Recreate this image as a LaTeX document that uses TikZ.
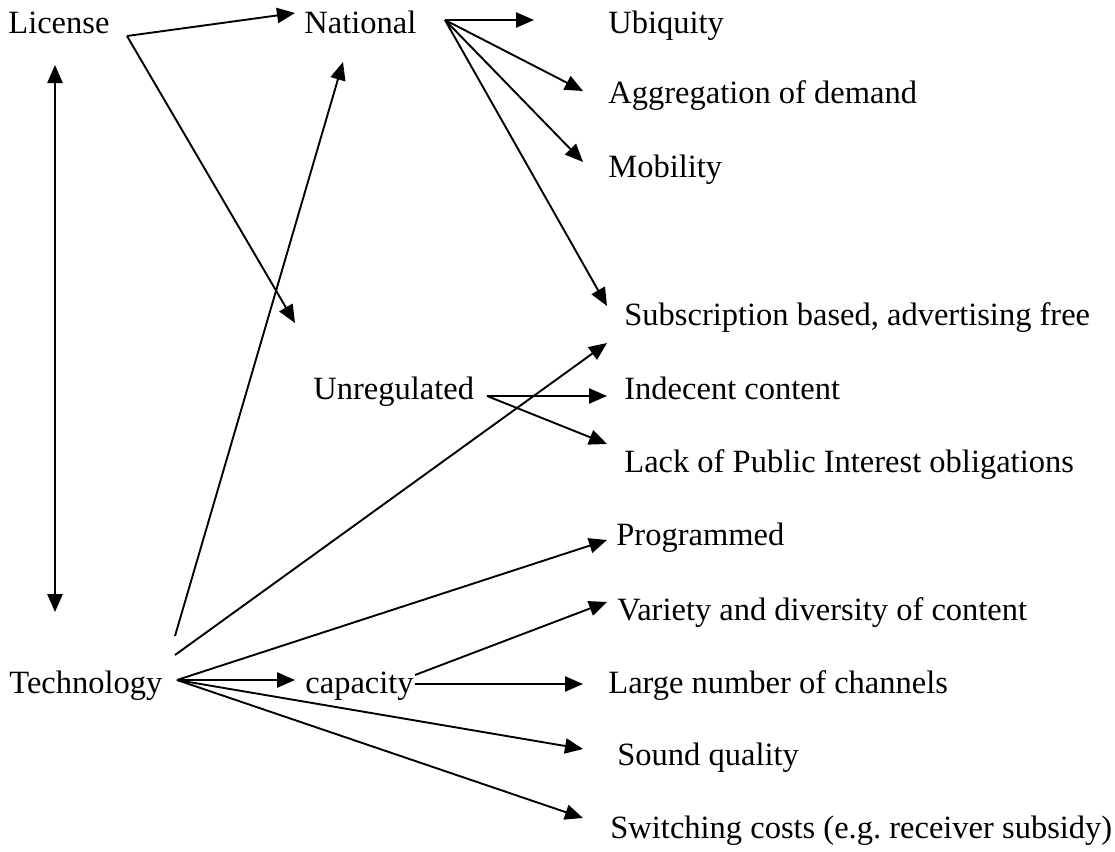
\documentclass[tikz,border=0pt]{standalone}
\usepackage{fontspec}
\setmainfont{Liberation Serif}
\usetikzlibrary{arrows.meta}
\tikzset{lbl/.style={anchor=base west,inner sep=0pt,font=\fontsize{16.25}{19.5}\selectfont},
	arr/.style={-{Triangle[length=9pt,width=7.6pt]},line width=0.95pt},
	darr/.style={{Triangle[length=9pt,width=7.6pt]}-{Triangle[length=9pt,width=7.6pt]},line width=0.95pt}}

\begin{document}
\begin{tikzpicture}[x=0.5pt,y=-0.5pt]
				\useasboundingbox (0,0) rectangle (1115,852);
				% left column and middle
				\node[lbl] (lic) at (8,33){License};
				\node[lbl] (nat) at (304,33){National};
				\node[lbl] (unreg) at (313,399){Unregulated};
				\node[lbl] (tech) at (9,693){Technology};
				\node[lbl] (cap) at (305,693){capacity};
				% right column
				\node[lbl] (ubi) at (608,33){Ubiquity};
				\node[lbl] (agg) at (608,103){Aggregation of demand};
				\node[lbl] (mob) at (608,177){Mobility};
				\node[lbl] (subs) at (624,325){Subscription based, advertising free};
				\node[lbl] (indec) at (624,399){Indecent content};
				\node[lbl] (lack) at (624,472){Lack of Public Interest obligations};
				\node[lbl] (prog) at (616,545){Programmed};
				\node[lbl] (var) at (617,620){Variety and diversity of content};
				\node[lbl] (large) at (608,693){Large number of channels};
				\node[lbl] (sound) at (617,765){Sound quality};
				\node[lbl] (switch) at (610,838){Switching costs (e.g.\ receiver subsidy)};
				% where the arrows start and stop
				\coordinate (licO) at (127,36);
				\coordinate (natI) at (295,13);
				\coordinate (unregI) at (295,323);
				\coordinate (natO) at (445,20);
				\coordinate (ubiI) at (534,20);
				\coordinate (aggI) at (583,91);
				\coordinate (mobI) at (583,162);
				\coordinate (subsI) at (607,306);
				\coordinate (licV) at (55,65);
				\coordinate (techV) at (55,612);
				\coordinate (techN) at (175,636);
				\coordinate (natJ) at (343,62);
				\coordinate (techS) at (175,655);
				\coordinate (subsJ) at (607,343);
				\coordinate (unregO) at (487,396);
				\coordinate (indecI) at (607,396);
				\coordinate (lackI) at (607,444);
				\coordinate (techO) at (177,680);
				\coordinate (capI) at (295,680);
				\coordinate (progI) at (607,540);
				\coordinate (soundI) at (583,749);
				\coordinate (switchI) at (583,818);
				\coordinate (capV) at (415,675);
				\coordinate (varI) at (607,602);
				\coordinate (capL) at (415,684);
				\coordinate (largeI) at (583,684);
				% arrows
				\draw[arr] (licO) -- (natI);
				\draw[arr] (licO) -- (unregI);
				\draw[darr] (licV) -- (techV);
				\draw[arr] (natO) -- (ubiI);
				\draw[arr] (natO) -- (aggI);
				\draw[arr] (natO) -- (mobI);
				\draw[arr] (natO) -- (subsI);
				\draw[arr] (techN) -- (natJ);
				\draw[arr] (techS) -- (subsJ);
				\draw[arr] (unregO) -- (indecI);
				\draw[arr] (unregO) -- (lackI);
				\draw[arr] (techO) -- (capI);
				\draw[arr] (techO) -- (progI);
				\draw[arr] (techO) -- (soundI);
				\draw[arr] (techO) -- (switchI);
				\draw[arr] (capV) -- (varI);
				\draw[arr] (capL) -- (largeI);
			\end{tikzpicture}
\end{document}
